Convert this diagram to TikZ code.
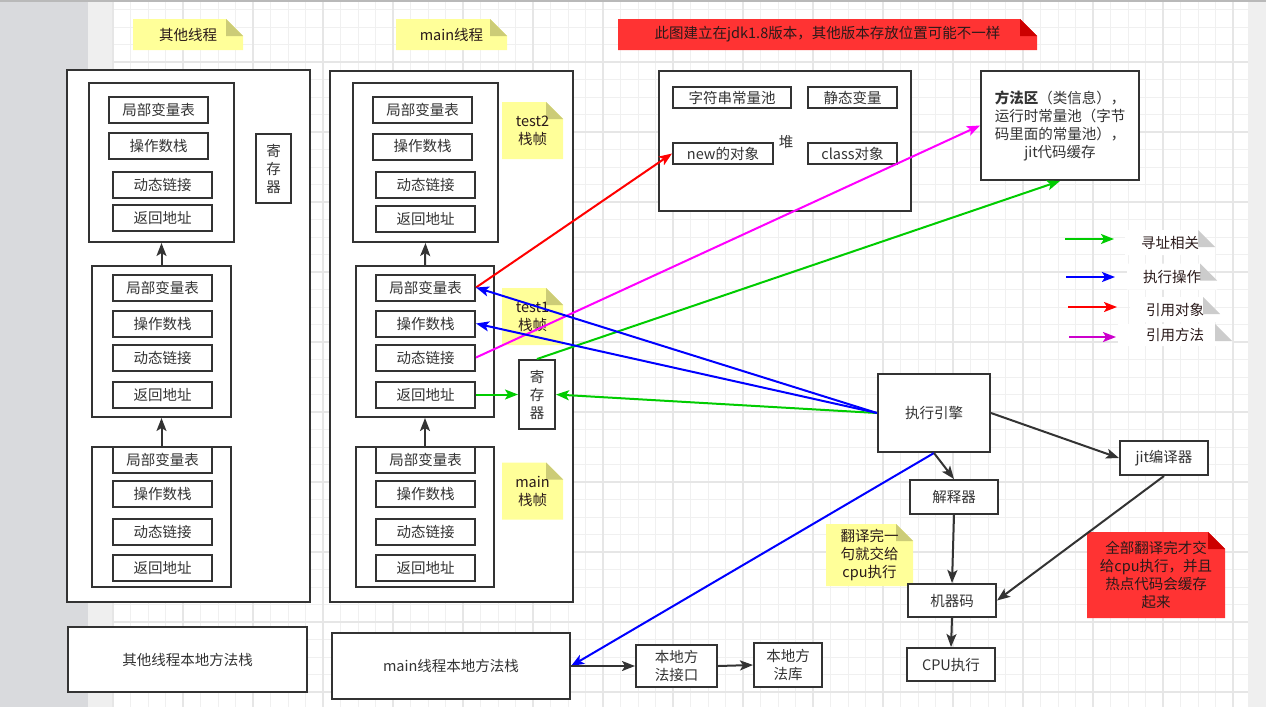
\documentclass[tikz,border=0pt]{standalone}
\usepackage{fontspec}
\setmainfont{Noto Sans CJK SC}
\usetikzlibrary{arrows.meta,positioning,calc}

\definecolor{boxline}{HTML}{333333}
\definecolor{notetext}{HTML}{2A1A1A}
\definecolor{notey}{HTML}{FFFF99}
\definecolor{noteyfold}{HTML}{CCCC77}
\definecolor{noter}{HTML}{FF3333}
\definecolor{noterfold}{HTML}{CC0000}
\definecolor{notegfold}{HTML}{CCCCCC}
\definecolor{gridmin}{HTML}{F0F0F0}
\definecolor{gridmaj}{HTML}{E6E6E6}
\definecolor{sidegrey}{HTML}{D9DADD}
\definecolor{sidelight}{HTML}{EFEFEF}
\definecolor{lnkgreen}{HTML}{00CC00}
\definecolor{lnkblue}{HTML}{0000FF}
\definecolor{lnkred}{HTML}{FF0000}
\definecolor{lnkpink}{HTML}{FF00FF}
\definecolor{lnkpurple}{HTML}{CC00CC}

\begin{document}
\begin{tikzpicture}[x=1pt, y=-1pt,
    every node/.style={font=\fontsize{14.5}{18}\selectfont, text=boxline},
    box/.style={draw=boxline, line width=2pt, fill=white, rectangle, inner sep=0pt, align=center},
    cell/.style={box, minimum width=99pt, minimum height=26pt},
    hcell/.style={box, minimum height=21pt},
    unit/.style={box, minimum width=88pt, minimum height=34pt},
    note/.style 2 args={inner sep=0pt, align=center, text=notetext, path picture={
        \fill[#1] (path picture bounding box.south west) |- ([xshift=-17pt]path picture bounding box.north east)
            -- ([yshift=-17pt]path picture bounding box.north east) |- (path picture bounding box.south west) -- cycle;
        \fill[#2] ([xshift=-17pt]path picture bounding box.north east) |- ([yshift=-17pt]path picture bounding box.north east) -- cycle;}},
    conn/.style={line width=2pt, -{Stealth[length=13pt, width=10pt, inset=3pt]}}
  ]
  \useasboundingbox (0,0) rectangle (1266,707);

  % background and grid
  \fill[sidegrey] (0,0) rectangle (88,707);
  \fill[sidelight] (88,0) rectangle (113,707);
  \fill[sidelight] (1248,0) rectangle (1266,707);
  \foreach \gx in {113,130.5,...,1248} \draw[gridmin, line width=1pt] (\gx,0) -- (\gx,707);
  \foreach \gy in {9.5,27,...,707} \draw[gridmin, line width=1pt] (113,\gy) -- (1248,\gy);
  \foreach \gx in {113,183,...,1248} \draw[gridmaj, line width=1.6pt] (\gx,0) -- (\gx,707);
  \foreach \gy in {62,132,...,707} \draw[gridmaj, line width=1.6pt] (113,\gy) -- (1248,\gy);
  \draw[gray!55, line width=1.5pt] (0,0.75) -- (1266,0.75);

  % other thread stack
  \node[box, minimum width=243pt, minimum height=532pt] (oth) at (188.5,336) {};
  \node[box, minimum width=145pt, minimum height=159pt] (oA) at (161.5,162.5) {};
  \node[cell] (oA1) at (158.5,109.5) {局部变量表};
  \node[cell] (oA2) at (158.5,146) {操作数栈};
  \node[cell] (oA3) at (162.5,184.5) {动态链接};
  \node[cell] (oA4) at (162.5,218) {返回地址};
  \node[box, minimum width=139pt, minimum height=151pt] (oB) at (161.5,341.5) {};
  \node[cell] (oB1) at (162.5,287.5) {局部变量表};
  \node[cell] (oB2) at (162.5,323.5) {操作数栈};
  \node[cell] (oB3) at (162.5,357.5) {动态链接};
  \node[cell] (oB4) at (162.5,394.5) {返回地址};
  \node[box, minimum width=139pt, minimum height=140pt] (oC) at (161.5,517) {};
  \node[cell] (oC1) at (162.5,460) {局部变量表};
  \node[cell] (oC2) at (162.5,493.5) {操作数栈};
  \node[cell] (oC3) at (162.5,531.5) {动态链接};
  \node[cell] (oC4) at (162.5,567.5) {返回地址};
  \node[box, minimum width=35pt, minimum height=69pt] (oreg) at (273.5,168.5) {寄\\存\\器};

  % main thread stack
  \node[box, minimum width=243pt, minimum height=531pt] (mst) at (451.5,336.5) {};
  \node[box, minimum width=145pt, minimum height=159pt] (t2) at (425.5,162.5) {};
  \node[cell] (t2a) at (422.5,110) {局部变量表};
  \node[cell] (t2b) at (422.5,146.5) {操作数栈};
  \node[cell] (t2c) at (425.5,184.5) {动态链接};
  \node[cell] (t2d) at (425.5,218.5) {返回地址};
  \node[box, minimum width=138pt, minimum height=151pt] (t1) at (425,341.5) {};
  \node[cell] (t1a) at (425.5,287.5) {局部变量表};
  \node[cell] (t1b) at (425.5,323.5) {操作数栈};
  \node[cell] (t1c) at (425.5,357.5) {动态链接};
  \node[cell] (t1d) at (425.5,394.5) {返回地址};
  \node[box, minimum width=138pt, minimum height=140pt] (mf) at (425,517) {};
  \node[cell] (mfa) at (425.5,460) {局部变量表};
  \node[cell] (mfb) at (425.5,493.5) {操作数栈};
  \node[cell] (mfc) at (425.5,531.5) {动态链接};
  \node[cell] (mfd) at (425.5,567.5) {返回地址};
  \node[box, minimum width=36pt, minimum height=69pt] (mreg) at (537,394.5) {寄\\存\\器};

  % notes
  \node[note={notey}{noteyfold}, minimum width=110pt, minimum height=31pt] (nOth) at (188,34.5) {其他线程};
  \node[note={notey}{noteyfold}, minimum width=111pt, minimum height=31pt] (nMain) at (451.5,34.5) {main线程};
  \node[note={noter}{noterfold}, minimum width=419pt, minimum height=31pt] (nJdk) at (827.5,34.5) {此图建立在jdk1.8版本，其他版本存放位置可能不一样};
  \node[note={notey}{noteyfold}, minimum width=61pt, minimum height=57pt] (nT2) at (532.5,130.5) {test2\\栈帧};
  \node[note={notey}{noteyfold}, minimum width=61pt, minimum height=57pt] (nT1) at (532.5,316.5) {test1\\栈帧};
  \node[note={notey}{noteyfold}, minimum width=61pt, minimum height=57pt] (nMf) at (532.5,491) {main\\栈帧};
  \node[note={notey}{noteyfold}, minimum width=87pt, minimum height=62pt] (nTr) at (869.5,555) {翻译完一\\句就交给\\cpu执行};
  \node[note={noter}{noterfold}, minimum width=138pt, minimum height=86pt] (nJit) at (1156,575) {全部翻译完才交\\给cpu执行，并且\\热点代码会缓存\\起来};

  % heap and method area
  \node[box, minimum width=252pt, minimum height=140pt] (heap) at (785,141) {};
  \node[hcell, minimum width=118pt] (strp) at (732,97.5) {字符串常量池};
  \node[hcell, minimum width=89pt] (stat) at (852.5,97.5) {静态变量};
  \node[hcell, minimum width=100pt] (newo) at (723,153.5) {new的对象};
  \node[hcell, minimum width=89pt] (clso) at (852.5,153.5) {class对象};
  \node (heapl) at (786,142) {堆};
  \node[box, minimum width=158pt, minimum height=109pt] (mth) at (1060,125.5)
    {\textbf{方法区}（类信息），\\运行时常量池（字节\\码里面的常量池），\\jit代码缓存};

  % execution
  \node[box, minimum width=112pt, minimum height=78pt] (eng) at (934,413) {执行引擎};
  \node[unit] (jit) at (1164,458) {jit编译器};
  \node[unit] (interp) at (954,497) {解释器};
  \node[unit, minimum height=33pt] (mc) at (952,600.5) {机器码};
  \node[unit, minimum height=33pt] (cpu) at (951,664.5) {CPU执行};

  % native
  \node[box, minimum width=239pt, minimum height=65pt] (nat1) at (187.5,659.5) {其他线程本地方法栈};
  \node[box, minimum width=238pt, minimum height=66pt] (nat2) at (451,666) {main线程本地方法栈};
  \node[box, minimum width=81pt, minimum height=42pt] (nif) at (676.5,666) {本地方\\法接口};
  \node[box, minimum width=68pt, minimum height=44pt] (nlib) at (788,665) {本地方\\法库};

  % legend
  \node[note={white}{notegfold}, minimum width=90pt, minimum height=25pt] (lgA) at (1170,242.5) {寻址相关};
  \node[note={white}{notegfold}, minimum width=90pt, minimum height=26pt] (lgB) at (1172,276.5) {执行操作};
  \node[note={white}{notegfold}, minimum width=90pt, minimum height=25pt] (lgC) at (1175,309.5) {引用对象};
  \node[note={white}{notegfold}, minimum width=114pt, minimum height=22pt] (lgD) at (1175,335) {引用方法};
  \coordinate (lgA0) at (1065,239); \coordinate (lgA1) at (1114,239);
  \coordinate (lgB0) at (1066,277); \coordinate (lgB1) at (1115,277);
  \coordinate (lgC0) at (1068,307); \coordinate (lgC1) at (1117,307);
  \coordinate (lgD0) at (1069,337); \coordinate (lgD1) at (1116,337);
  \draw[conn, lnkgreen] (lgA0) -- (lgA1);
  \draw[conn, lnkblue] (lgB0) -- (lgB1);
  \draw[conn, lnkred] (lgC0) -- (lgC1);
  \draw[conn, lnkpurple] (lgD0) -- (lgD1);

  % frame order
  \draw[conn, boxline] (oB.north) -- (oA.south);
  \draw[conn, boxline] (oC.north) -- (oB.south);
  \draw[conn, boxline] (t1.north) -- (t2.south);
  \draw[conn, boxline] (mf.north) -- (t1.south);

  % links
  \draw[conn, lnkred] (t1a.east) -- (newo.west);
  \draw[conn, lnkpink] (t1c.east) -- (mth.west);
  \draw[conn, lnkgreen] (mreg.north) -- (mth.south);
  \draw[conn, lnkgreen] (t1d.east) -- (mreg.west);
  \draw[conn, lnkgreen] (eng.west) -- (mreg.east);
  \draw[conn, lnkblue] (eng.west) -- (t1a.east);
  \draw[conn, lnkblue] (eng.west) -- (t1b.east);
  \draw[conn, lnkblue] (eng.south) -- (nat2.east);
  \draw[conn, boxline] (eng.south) -- (interp.north);
  \draw[conn, boxline] (eng.east) -- (jit.west);
  \draw[conn, boxline] (interp.south) -- (mc.north);
  \draw[conn, boxline] (jit.south) -- (mc.east);
  \draw[conn, boxline] (mc.south) -- (cpu.north);
  \draw[conn, boxline] (nat2.east) -- (nif.west);
  \draw[conn, boxline] (nif.east) -- (nlib.west);
\end{tikzpicture}
\end{document}
